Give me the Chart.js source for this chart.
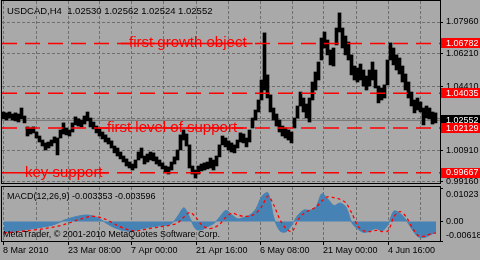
<!DOCTYPE html>
<html>
<head>
<meta charset="utf-8">
<script src="https://cdn.jsdelivr.net/npm/chart.js@4.4.1/dist/chart.umd.min.js"></script>
<style>
  html, body { margin: 0; padding: 0; background: #a9a9a9; }
  #wrap { position: relative; width: 480px; height: 260px; overflow: hidden; background: #a9a9a9; }
  canvas { position: absolute; left: 0; }
  #main { top: 0; }
  #macd { top: 184px; }
</style>
</head>
<body>
<div id="wrap">
  <canvas id="main" width="480" height="185"></canvas>
  <canvas id="macd" width="480" height="76"></canvas>
</div>
<script>
// USDCAD H4, one range every 3 bars (high / low)
const highs = [
  1.0301, 1.0296, 1.0301, 1.0290, 1.0296, 1.0290, 1.0323, 1.0279, 1.0219, 1.0213,
  1.0219, 1.0191, 1.0169, 1.0147, 1.0131, 1.0136, 1.0147, 1.0164, 1.0158, 1.0202,
  1.0241, 1.0213, 1.0202, 1.0241, 1.0274, 1.0263, 1.0257, 1.0279, 1.0301, 1.0268,
  1.0246, 1.0224, 1.0208, 1.0191, 1.0175, 1.0158, 1.0142, 1.0114, 1.0103, 1.0081,
  1.0059, 1.0043, 1.0026, 1.0015, 1.0037, 1.0081, 1.0103, 1.0059, 1.0070, 1.0081,
  1.0076, 1.0054, 1.0037, 1.0021, 1.0004, 0.9999, 1.0026, 1.0054, 1.0092, 1.0175,
  1.0202, 1.0180, 1.0120, 1.0004, 0.9982, 1.0004, 1.0015, 1.0021, 1.0026, 1.0048,
  1.0037, 1.0059, 1.0120, 1.0169, 1.0158, 1.0142, 1.0131, 1.0120, 1.0147, 1.0186,
  1.0180, 1.0158, 1.0202, 1.0268, 1.0312, 1.0367, 1.0477, 1.0736, 1.0505, 1.0395,
  1.0323, 1.0290, 1.0257, 1.0224, 1.0213, 1.0202, 1.0191, 1.0268, 1.0334, 1.0411,
  1.0378, 1.0345, 1.0378, 1.0466, 1.0521, 1.0576, 1.0708, 1.0741, 1.0697, 1.0642,
  1.0653, 1.0763, 1.0846, 1.0763, 1.0719, 1.0686, 1.0615, 1.0554, 1.0543, 1.0565,
  1.0532, 1.0499, 1.0532, 1.0576, 1.0532, 1.0444, 1.0433, 1.0450, 1.0587, 1.0681,
  1.0653, 1.0615, 1.0598, 1.0554, 1.0510, 1.0466, 1.0411, 1.0367, 1.0378, 1.0356,
  1.0323, 1.0334, 1.0323, 1.0301, 1.0296
];
const lows = [
  1.0263, 1.0257, 1.0268, 1.0257, 1.0252, 1.0246, 1.0263, 1.0241, 1.0169, 1.0180,
  1.0186, 1.0158, 1.0136, 1.0114, 1.0092, 1.0103, 1.0114, 1.0131, 1.0065, 1.0158,
  1.0180, 1.0175, 1.0169, 1.0191, 1.0230, 1.0224, 1.0219, 1.0235, 1.0252, 1.0219,
  1.0208, 1.0186, 1.0169, 1.0153, 1.0136, 1.0125, 1.0103, 1.0076, 1.0059, 1.0043,
  1.0026, 1.0004, 0.9993, 0.9982, 0.9993, 1.0037, 1.0048, 1.0015, 1.0026, 1.0037,
  1.0032, 1.0015, 1.0004, 0.9988, 0.9971, 0.9960, 0.9982, 1.0015, 1.0037, 1.0092,
  1.0147, 1.0114, 0.9993, 0.9960, 0.9938, 0.9960, 0.9977, 0.9982, 0.9988, 0.9993,
  0.9982, 1.0004, 1.0054, 1.0120, 1.0109, 1.0092, 1.0081, 1.0076, 1.0103, 1.0136,
  1.0131, 1.0109, 1.0136, 1.0213, 1.0257, 1.0301, 1.0367, 1.0422, 1.0378, 1.0301,
  1.0257, 1.0224, 1.0191, 1.0169, 1.0158, 1.0147, 1.0131, 1.0213, 1.0268, 1.0334,
  1.0301, 1.0268, 1.0246, 1.0367, 1.0422, 1.0477, 1.0587, 1.0653, 1.0615, 1.0560,
  1.0554, 1.0670, 1.0741, 1.0653, 1.0615, 1.0587, 1.0505, 1.0477, 1.0466, 1.0477,
  1.0444, 1.0422, 1.0444, 1.0477, 1.0433, 1.0351, 1.0367, 1.0378, 1.0450, 1.0587,
  1.0560, 1.0532, 1.0510, 1.0466, 1.0422, 1.0378, 1.0334, 1.0296, 1.0312, 1.0301,
  1.0230, 1.0268, 1.0263, 1.0235, 1.0241
];

// MACD(12,26,9), one value every 6 bars
const macdMain = [
  -0.0032, -0.0033, -0.0031, -0.0028, -0.0025, -0.0022, -0.0019, -0.0016, -0.0012, -0.0005,
  0.0004, 0.0010, 0.0015, 0.0019, 0.0020, 0.0016, 0.0008, -0.0005, -0.0016, -0.0024,
  -0.0029, -0.0031, -0.0028, -0.0023, -0.0019, -0.0016, -0.0014, -0.0012, -0.0006, 0.0018,
  0.0043, 0.0010, -0.0025, -0.0026, -0.0016, -0.0006, 0.0015, 0.0035, 0.0020, 0.0008,
  0.0013, 0.0020, 0.0040, 0.0080, 0.0090, 0.0010, -0.0030, -0.0033, -0.0010, 0.0020,
  0.0036, 0.0035, 0.0046, 0.0088, 0.0070, 0.0050, 0.0058, 0.0045, -0.0005, -0.0025,
  -0.0035, -0.0030, -0.0022, -0.0030, -0.0010, 0.0033, 0.0025, 0.0005, -0.0025, -0.0048,
  -0.0051, -0.0043, -0.003353
];
const macdSignal = [
  -0.0036, -0.0035, -0.0033, -0.0031, -0.0029, -0.0027, -0.0025, -0.0022, -0.0019, -0.0015,
  -0.0010, -0.0004, 0.0003, 0.0009, 0.0014, 0.0016, 0.0013, 0.0006, -0.0004, -0.0014,
  -0.0022, -0.0028, -0.0030, -0.0027, -0.0023, -0.0020, -0.0017, -0.0014, -0.0011, -0.0004,
  0.0014, 0.0029, 0.0012, -0.0012, -0.0022, -0.0020, -0.0008, 0.0014, 0.0026, 0.0020,
  0.0016, 0.0017, 0.0026, 0.0048, 0.0080, 0.0050, 0.0005, -0.0022, -0.0032, 0.0005,
  0.0026, 0.0036, 0.0045, 0.0065, 0.0078, 0.0075, 0.0070, 0.0058, 0.0025, -0.0015,
  -0.0030, -0.0032, -0.0028, -0.0032, -0.0030, 0.0015, 0.0031, 0.0015, -0.0018, -0.0044,
  -0.0047, -0.0040, -0.003596
];

const priceTicks = [0.99160, 1.00910, 1.02660, 1.04410, 1.06210, 1.07960];
const macdTicks = [-0.00618, 0, 0.01023];
const timeTicks = [1, 34, 66, 97, 129, 161, 194, 226, 258, 290, 321, 354, 386, 418];
const timeLabels = ['8 Mar 2010', '', '23 Mar 08:00', '', '7 Apr 00:00', '', '21 Apr 16:00', '',
  '6 May 08:00', '', '21 May 00:00', '', '4 Jun 16:00', ''];

const levels = [1.06782, 1.04035, 1.02129, 0.99667];
const levelNotes = ['first growth object', '', 'first level of support', 'key support'];
const noteStart = [127, 0, 105, 23];
const bid = 1.02552;
const lastBar = ['1.02530', '1.02562', '1.02524', '1.02552'];
const macdLast = ['-0.003353', '-0.003596'];

Chart.defaults.font.family = '"Liberation Sans", Arial, sans-serif';
Chart.defaults.font.size = 9;
Chart.defaults.color = '#000';

const GRID = '#6e6e6e';
const RED = '#ff0000';
const FONT = '9px "Liberation Sans"';

function fixWidth(axis) {
  axis.width = 40;
  axis.paddingTop = 0;
  axis.paddingBottom = 0;
}

function timeAxis(showLabels) {
  return {
    type: 'linear',
    min: 0,
    max: 438,
    offset: false,
    afterBuildTicks: (axis) => { axis.ticks = timeTicks.map(v => ({value: v})); },
    afterFit: (axis) => {
      axis.height = showLabels ? 19 : 2;
      axis.paddingLeft = 0;
      axis.paddingRight = 0;
    },
    grid: {
      offset: false,
      color: GRID,
      drawTicks: showLabels,
      tickLength: 4,
      tickColor: (c) => (timeLabels[c.index] ? '#000' : 'rgba(0,0,0,0)'),
      tickBorderDash: []
    },
    border: { display: false, dash: [3, 2] },
    ticks: {
      display: showLabels,
      autoSkip: false,
      maxRotation: 0,
      align: 'start',
      padding: 0,
      callback: (v, i) => timeLabels[i]
    }
  };
}

function frame(chart) {
  const {ctx, chartArea: a} = chart;
  ctx.save();
  ctx.strokeStyle = '#000';
  ctx.lineWidth = 1;
  ctx.strokeRect(a.left - 0.5, a.top - 0.5, a.width + 1, a.height + 1);
  ctx.restore();
}

const mainOverlay = {
  id: 'mainOverlay',
  afterDatasetsDraw(chart) {
    const {ctx, scales: {x, y}} = chart;
    ctx.save();
    ctx.font = '15px "Liberation Sans"';
    ctx.fillStyle = RED;
    ctx.strokeStyle = RED;
    ctx.lineWidth = 1.5;
    levelNotes.forEach((t, i) => {
      if (!t) return;
      const py = y.getPixelForValue(levels[i]);
      const px = x.getPixelForValue(noteStart[i]);
      const w = ctx.measureText(t).width;
      ctx.beginPath();
      ctx.moveTo(px - 8, py);
      ctx.lineTo(px + w + 6, py);
      ctx.stroke();
      ctx.textBaseline = 'alphabetic';
      ctx.fillText(t, px, py + 4);
    });
    ctx.font = '9.5px "Liberation Sans"';
    ctx.fillStyle = '#000';
    ctx.textBaseline = 'middle';
    ctx.fillText('USDCAD,H4  ' + lastBar.join(' '), 7, 11);
    ctx.restore();
  },
  afterDraw(chart) {
    const {ctx, chartArea: a, scales: {y}} = chart;
    ctx.save();
    ctx.font = FONT;
    ctx.textBaseline = 'middle';
    const box = (v, bg) => {
      const py = y.getPixelForValue(v);
      ctx.fillStyle = bg;
      ctx.fillRect(a.right + 1, Math.round(py) - 5, 40, 10);
      ctx.fillStyle = '#fff';
      ctx.fillText(v.toFixed(5), a.right + 6, py);
    };
    box(bid, '#000');
    levels.forEach(v => box(v, RED));
    ctx.restore();
    frame(chart);
  }
};

const macdOverlay = {
  id: 'macdOverlay',
  afterDatasetsDraw(chart) {
    const {ctx} = chart;
    ctx.save();
    ctx.font = FONT;
    ctx.fillStyle = '#000';
    ctx.textBaseline = 'middle';
    ctx.fillText('MACD(12,26,9) ' + macdLast.join(' '), 7, 13);
    ctx.fillText('MetaTrader, \u00a9 2001-2010 MetaQuotes Software Corp.', 3, 50.5);
    ctx.restore();
    frame(chart);
  }
};

const levelSets = levels.map(v => ({
  type: 'line',
  data: [{x: 0, y: v}, {x: 438, y: v}],
  borderColor: RED,
  borderWidth: 1.5,
  borderDash: [15, 8],
  pointRadius: 0
}));

new Chart(document.getElementById('main'), {
  type: 'bar',
  data: {
    datasets: [
      ...levelSets,
      {
        type: 'bar',
        data: highs.map((h, i) => ({x: 1.5 + 3 * i, y: [lows[i], h]})),
        backgroundColor: '#000',
        borderWidth: 0,
        barThickness: 3
      },
      {
        type: 'line',
        data: [{x: 0, y: bid}, {x: 438, y: bid}],
        borderColor: '#707070',
        borderWidth: 1,
        pointRadius: 0
      }
    ]
  },
  options: {
    responsive: false,
    animation: false,
    events: [],
    layout: { padding: { left: 2, top: 1, right: 0, bottom: 0 } },
    plugins: { legend: { display: false }, tooltip: { enabled: false } },
    scales: {
      x: timeAxis(false),
      y: {
        type: 'linear',
        position: 'right',
        min: 0.99105,
        max: 1.09115,
        afterBuildTicks: (axis) => { axis.ticks = priceTicks.map(v => ({value: v})); },
        afterFit: fixWidth,
        grid: { color: GRID, tickLength: 3, tickColor: '#000', tickBorderDash: [] },
        border: { display: false, dash: [3, 2] },
        ticks: {
          padding: 3,
          autoSkip: false,
          callback: (v) => (v === 1.02660 ? '' : v.toFixed(5))
        }
      }
    }
  },
  plugins: [mainOverlay]
});

new Chart(document.getElementById('macd'), {
  type: 'line',
  data: {
    datasets: [
      {
        data: macdSignal.map((v, i) => ({x: 2 + 6 * i, y: v})),
        borderColor: RED,
        borderWidth: 1.3,
        borderDash: [3, 3],
        pointRadius: 0,
        tension: 0.3
      },
      {
        data: macdMain.map((v, i) => ({x: 2 + 6 * i, y: v})),
        borderColor: '#4682b4',
        backgroundColor: '#4682b4',
        borderWidth: 1,
        fill: 'origin',
        pointRadius: 0,
        tension: 0.3
      }
    ]
  },
  options: {
    responsive: false,
    animation: false,
    events: [],
    layout: { padding: { left: 2, top: 3, right: 0, bottom: 0 } },
    plugins: { legend: { display: false }, tooltip: { enabled: false } },
    scales: {
      x: timeAxis(true),
      y: {
        type: 'linear',
        position: 'right',
        min: -0.00618,
        max: 0.01086,
        afterBuildTicks: (axis) => { axis.ticks = macdTicks.map(v => ({value: v})); },
        afterFit: fixWidth,
        grid: { drawOnChartArea: false, tickLength: 3, tickColor: '#000' },
        border: { display: false },
        ticks: {
          padding: 3,
          autoSkip: false,
          callback: (v) => {
            if (v === 0) return '0.00';
            if (v > 0) return ['', v.toFixed(5)];
            return [v.toFixed(5), ''];
          }
        }
      }
    }
  },
  plugins: [macdOverlay]
});
</script>
</body>
</html>
